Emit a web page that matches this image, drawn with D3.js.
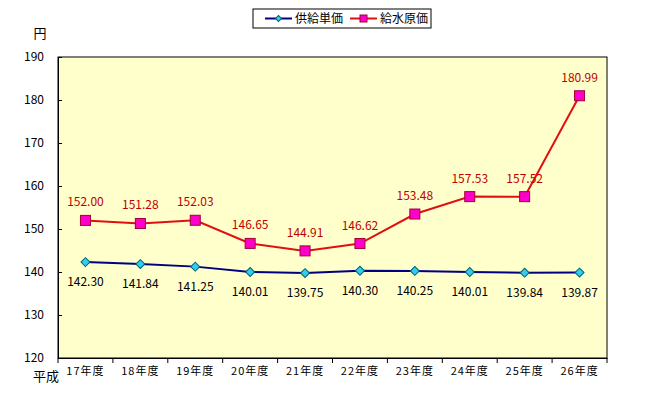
<!DOCTYPE html>
<html lang="ja">
<head>
<meta charset="UTF-8">
<title>供給単価と給水原価</title>
<script src="https://d3js.org/d3.v7.min.js"></script>
<style>
  body { margin: 0; background: #fff; }
  text { font-family: "Noto Sans CJK JP", "DejaVu Sans", sans-serif; }
</style>
</head>
<body>
<script>
// data
const years = ["17年度", "18年度", "19年度", "20年度", "21年度", "22年度", "23年度", "24年度", "25年度", "26年度"];
const supplyPrice = [142.30, 141.84, 141.25, 140.01, 139.75, 140.30, 140.25, 140.01, 139.84, 139.87];
const costPrice = [152.00, 151.28, 152.03, 146.65, 144.91, 146.62, 153.48, 157.53, 157.52, 180.99];
const yTicks = [120, 130, 140, 150, 160, 170, 180, 190];

const width = 652, height = 415;
const plotLeft = 58, plotRight = 607, plotTop = 57, plotBottom = 358;

const svg = d3.select("body").append("svg")
    .attr("width", width)
    .attr("height", height);

const x = d3.scaleBand().domain(years).range([plotLeft, plotRight]);
const y = d3.scaleLinear().domain([120, 190]).range([plotBottom, plotTop]);

// plot area
svg.append("rect")
    .attr("x", plotLeft).attr("y", plotTop)
    .attr("width", plotRight - plotLeft).attr("height", plotBottom - plotTop)
    .attr("fill", "#ffffcc")
    .attr("stroke", "#000").attr("stroke-width", 1);

// y axis
const yAxis = svg.append("g")
    .attr("transform", "translate(" + plotLeft + ",0)")
    .call(d3.axisLeft(y).tickValues(yTicks).tickSizeInner(-4).tickSizeOuter(0).tickPadding(14));
yAxis.select(".domain").attr("stroke", "#000");
yAxis.selectAll("text").attr("font-size", 12).attr("fill", "#000");

// x axis
const xAxis = svg.append("g")
    .attr("transform", "translate(0," + plotBottom + ")")
    .call(d3.axisBottom(x).tickSize(0).tickPadding(9));
xAxis.select(".domain").attr("stroke", "#000");
xAxis.selectAll("text").attr("font-size", 11).attr("letter-spacing", 1).attr("fill", "#000");

// category boundary ticks
svg.append("g").selectAll("line")
    .data(years)
    .enter().append("line")
    .attr("x1", d => x(d)).attr("x2", d => x(d))
    .attr("y1", plotBottom).attr("y2", plotBottom + 5)
    .attr("stroke", "#000");
svg.append("line")
    .attr("x1", plotRight).attr("x2", plotRight)
    .attr("y1", plotBottom).attr("y2", plotBottom + 5)
    .attr("stroke", "#000");

svg.append("text").attr("x", 40).attr("y", 38).attr("text-anchor", "middle")
    .attr("font-size", 13).text("円");
svg.append("text").attr("x", 46).attr("y", 381).attr("text-anchor", "middle")
    .attr("font-size", 13).text("平成");

const cx = d => x(d) + x.bandwidth() / 2;

// lines
const line = d3.line().x(d => cx(d[0])).y(d => y(d[1]));
svg.append("path")
    .datum(years.map((d, i) => [d, supplyPrice[i]]))
    .attr("d", line).attr("fill", "none")
    .attr("stroke", "#000080").attr("stroke-width", 2);
svg.append("path")
    .datum(years.map((d, i) => [d, costPrice[i]]))
    .attr("d", line).attr("fill", "none")
    .attr("stroke", "#e01010").attr("stroke-width", 2);

// markers
svg.append("g").selectAll("path")
    .data(supplyPrice)
    .enter().append("path")
    .attr("d", d3.symbol().type(d3.symbolSquare).size(40))
    .attr("transform", (d, i) => "translate(" + cx(years[i]) + "," + y(d) + ") rotate(45)")
    .attr("fill", "#33ccee").attr("stroke", "#006070").attr("stroke-width", 1);
svg.append("g").selectAll("rect")
    .data(costPrice)
    .enter().append("rect")
    .attr("x", (d, i) => cx(years[i]) - 5)
    .attr("y", d => y(d) - 5)
    .attr("width", 10).attr("height", 10)
    .attr("fill", "#ff00cc").attr("stroke", "#a00030").attr("stroke-width", 1);

// data labels
svg.append("g").selectAll("text")
    .data(supplyPrice)
    .enter().append("text")
    .attr("x", (d, i) => cx(years[i]))
    .attr("y", d => y(d) + 24)
    .attr("text-anchor", "middle").attr("font-size", 12).attr("fill", "#000")
    .text(d => d.toFixed(2));
svg.append("g").selectAll("text")
    .data(costPrice)
    .enter().append("text")
    .attr("x", (d, i) => cx(years[i]))
    .attr("y", d => y(d) - 14)
    .attr("text-anchor", "middle").attr("font-size", 12).attr("fill", "#c00000")
    .text(d => d.toFixed(2));

// legend
const legend = svg.append("g");
legend.append("rect")
    .attr("x", 253).attr("y", 9).attr("width", 178).attr("height", 19)
    .attr("fill", "#fff").attr("stroke", "#000");
legend.append("line").attr("x1", 265).attr("x2", 292).attr("y1", 18.5).attr("y2", 18.5)
    .attr("stroke", "#000080").attr("stroke-width", 2);
legend.append("path")
    .attr("d", d3.symbol().type(d3.symbolSquare).size(18))
    .attr("transform", "translate(278.5,18.5) rotate(45)")
    .attr("fill", "#33ccee").attr("stroke", "#006070");
legend.append("text").attr("x", 295).attr("y", 23).attr("font-size", 12).text("供給単価");
legend.append("line").attr("x1", 350).attr("x2", 377).attr("y1", 18.5).attr("y2", 18.5)
    .attr("stroke", "#e01010").attr("stroke-width", 2);
legend.append("rect").attr("x", 360).attr("y", 15).attr("width", 7).attr("height", 7)
    .attr("fill", "#ff00cc").attr("stroke", "#a00030");
legend.append("text").attr("x", 380).attr("y", 23).attr("font-size", 12).text("給水原価");
</script>
</body>
</html>
